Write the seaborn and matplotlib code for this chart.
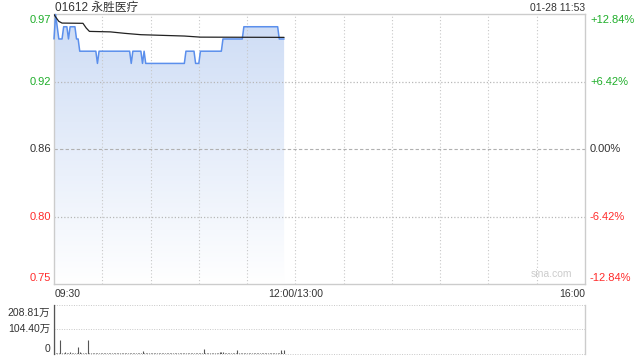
import numpy as np
import pandas as pd
import matplotlib
matplotlib.use("Agg")
import matplotlib.pyplot as plt
import seaborn as sns

sns.set_theme(style="white")
plt.rcParams['font.family'] = ['Liberation Sans', 'Noto Sans CJK SC', 'DejaVu Sans']

# ---------------- data ----------------
title = "01612 永胜医疗"
stamp = "01-28 11:53"
prev_close = 0.86
# price run-length encoding (per minute from 09:30)
price_levels = [0.95, 0.97, 0.96, 0.95, 0.96, 0.95, 0.96, 0.95, 0.94, 0.93, 0.94,
                0.93, 0.94, 0.93, 0.94, 0.93, 0.94, 0.93, 0.94, 0.95, 0.96, 0.95]
price_runs = [1, 1, 1, 3, 3, 1, 4, 2, 11, 1, 20,
              1, 6, 1, 1, 25, 6, 3, 14, 13, 22, 4]
avg_minutes = [0, 1, 3, 5, 18, 20, 22, 35, 44, 54, 81, 91, 143]
avg_prices = [0.9700, 0.9680, 0.9644, 0.9630, 0.9628, 0.9590, 0.9562,
              0.9558, 0.9546, 0.9535, 0.9524, 0.9515, 0.9513]
volume_wan = [
    208.81, 3, 2, 4, 58, 3, 2, 5, 2, 3, 8, 2, 3, 2, 4, 29, 5, 2, 3, 2,
    3, 58, 4, 2, 3, 2, 4, 3, 2, 3, 2, 4, 2, 3, 2, 2, 3, 4, 2, 3,
    2, 3, 2, 4, 3, 2, 2, 3, 4, 2, 3, 2, 3, 2, 4, 10, 3, 2, 2, 3,
    2, 4, 2, 3, 2, 3, 2, 4, 3, 2, 2, 3, 2, 4, 2, 3, 2, 2, 3, 4,
    2, 3, 2, 4, 3, 2, 3, 2, 4, 2, 3, 2, 3, 18, 2, 4, 3, 2, 3, 2,
    4, 2, 3, 6, 5, 7, 3, 2, 4, 2, 3, 2, 3, 4, 15, 3, 2, 4, 2, 3,
    2, 3, 4, 2, 3, 2, 4, 3, 2, 3, 2, 4, 3, 2, 3, 4, 2, 3, 3, 2,
    4, 14, 3, 14]
left_labels = ["0.97", "0.92", "0.86", "0.80", "0.75"]
right_labels = ["+12.84%", "+6.42%", "0.00%", "-6.42%", "-12.84%"]
vol_labels = ["208.81万", "104.40万", "0"]
x_labels = ["09:30", "12:00/13:00", "16:00"]

# ---------------- derived ----------------
prices = np.repeat(price_levels, price_runs)
minutes = np.arange(len(prices))
df = pd.DataFrame({"minute": minutes, "price": prices})
avg_df = pd.DataFrame({"minute": avg_minutes, "avg": avg_prices})
vol_df = pd.DataFrame({"minute": np.arange(len(volume_wan)), "vol": volume_wan})

pcts = [0.1284, 0.0642, 0.0, -0.0642, -0.1284]
levels = [prev_close * (1 + p) for p in pcts]
ymax, ymin = levels[0], levels[-1]

GREEN = "#1fae2a"
RED = "#ff2b2b"
DARK = "#333333"
label_colors = [GREEN, GREEN, DARK, RED, RED]

fig = plt.figure(figsize=(6.4, 3.6), dpi=100)
ax = fig.add_axes([54/640, 1-284/360, 531/640, 270/360])
axv = fig.add_axes([54/640, 1-353.5/360, 531/640, 48.5/360])

# gradient fill under price
ax.set_xlim(0, 330)
ax.set_ylim(ymin, ymax)
poly = ax.fill_between(df["minute"], df["price"], ymin, color="none", lw=0)
top_c = np.array([205, 220, 245]) / 255.0
n = 256
t = np.linspace(0, 1, n)[:, None]
grad = top_c[None, :] * (1 - t) + np.ones(3)[None, :] * t
img = ax.imshow(grad[:, None, :], extent=[0, 330, ymin, ymax], aspect="auto",
                origin="upper", zorder=1)
img.set_clip_path(poly.get_paths()[0], transform=ax.transData)
ax.set_xlim(0, 330)
ax.set_ylim(ymin, ymax)

sns.lineplot(data=df, x="minute", y="price", ax=ax, color="#5b8fec", lw=1.1,
             zorder=3, clip_on=False)
sns.lineplot(data=avg_df, x="minute", y="avg", ax=ax, color="#222222", lw=0.9,
             zorder=4)

# grid (drawn above the fill, like the reference)
for m in range(30, 330, 30):
    ax.axvline(m, color="#c8c8c8", lw=0.8, ls=(0, (1, 2)), zorder=2)
for i, lv in enumerate(levels[1:-1]):
    if i == 1:
        ax.axhline(lv, color="#b0b0b0", lw=0.8, ls=(0, (3, 2)), zorder=2)
    else:
        ax.axhline(lv, color="#b8b8b8", lw=0.9, ls=(0, (1, 1.6)), zorder=2)

ax.set_xticks([])
ax.set_yticks([])
ax.set_xlabel("")
ax.set_ylabel("")
for s in ax.spines.values():
    s.set_color("#cccccc")
    s.set_linewidth(1)

# y labels left and right
offsets = [-6, 0, 0, 0, 6]
for lv, lab, c, o, rl in zip(levels, left_labels, label_colors, offsets, right_labels):
    ax.annotate(lab, xy=(0, lv), xycoords=("axes fraction", "data"),
                xytext=(-3, o), textcoords="offset pixels", ha="right", va="center",
                fontsize=8, color=c)
    ax.annotate(rl, xy=(1, lv), xycoords=("axes fraction", "data"),
                xytext=(5, o), textcoords="offset pixels", ha="left", va="center",
                fontsize=8, color=c)

fig.text(55/640, 1-8/360, title, ha="left", va="center", fontsize=8.5, color=DARK)
fig.text(585/640, 1-8/360, stamp, ha="right", va="center", fontsize=7.5, color=DARK)

# x labels
fig.text(55/640, 1-294/360, x_labels[0], ha="left", va="center", fontsize=7.5, color=DARK)
fig.text(295.5/640, 1-294/360, x_labels[1], ha="center", va="center", fontsize=7.5, color=DARK)
fig.text(585/640, 1-294/360, x_labels[2], ha="right", va="center", fontsize=7.5, color=DARK)
ax.text(0.937, 0.02, "sina.com", transform=ax.transAxes, ha="center", va="bottom",
        fontsize=7.5, color="#cccccc")

# volume
axv.set_xlim(0, 330)
vmax = volume_wan[0]
axv.set_ylim(0, vmax)
axv.vlines(vol_df["minute"], 0, vol_df["vol"], color="#555555", lw=0.8)
axv.axhline(vmax / 2, color="#c8c8c8", lw=0.7, ls=(0, (1, 1.5)))
axv.axhline(vmax, color="#c8c8c8", lw=0.7, ls=(0, (1, 1.5)), clip_on=False)
axv.axhline(0, color="#c8c8c8", lw=0.7, ls=(0, (1, 1.5)), clip_on=False)
axv.set_xticks([])
axv.set_yticks([])
axv.spines["top"].set_visible(False)
axv.spines["bottom"].set_visible(False)
axv.spines["left"].set_color("#555555")
axv.spines["left"].set_linewidth(0.9)
axv.spines["right"].set_color("#cccccc")
axv.spines["right"].set_linewidth(1)
for v, lab, o in zip([vmax, vmax / 2, 0], vol_labels, [-8, 0, 4]):
    axv.annotate(lab, xy=(0, v), xycoords=("axes fraction", "data"),
                 xytext=(-4, o), textcoords="offset pixels", ha="right", va="center",
                 fontsize=7.5, color=DARK)

fig.savefig("out.png", dpi=100)
